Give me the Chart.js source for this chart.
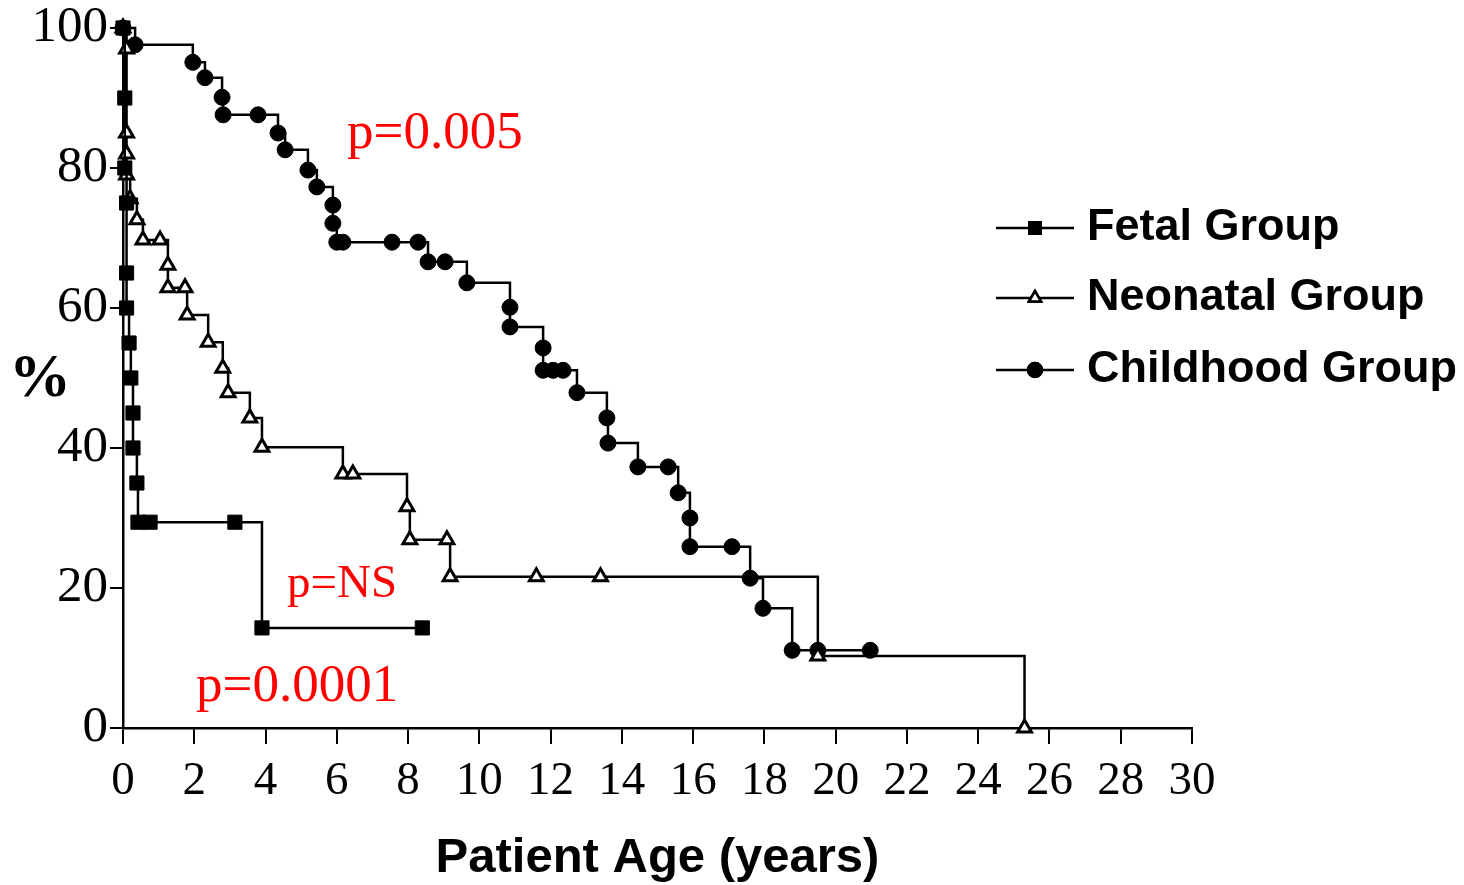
<!DOCTYPE html>
<html>
<head>
<meta charset="utf-8">
<script src="https://cdn.jsdelivr.net/npm/chart.js@4/dist/chart.umd.min.js"></script>
<style>
  html, body { margin: 0; padding: 0; background: #fff; }
  #wrap { width: 1464px; height: 885px; }
</style>
</head>
<body>
<div id="wrap"><canvas id="kmChart" width="1464" height="885"></canvas></div>
<script>
// survival curves (age in years, % surviving)
const fetalAge = [0, 0.05, 0.05, 0.1, 0.1, 0.1, 0.17, 0.22, 0.28, 0.28, 0.39, 0.42, 0.76, 3.14, 3.9, 8.4];
const fetalPct = [100, 90, 80, 75, 65, 60, 55, 50, 45, 40, 35, 29.4, 29.4, 29.4, 14.3, 14.3];

const neonatalAge = [0, 0.1, 0.1, 0.1, 0.1, 0.2, 0.39, 0.56, 1.04, 1.26, 1.26, 1.74, 1.8, 2.39, 2.8, 2.95,
    3.56, 3.9, 6.17, 6.45, 7.97, 8.05, 9.09, 9.18, 11.6, 13.4, 19.5, 25.3];
const neonatalPct = [100, 97, 85, 82, 79, 75.6, 72.6, 69.7, 69.7, 66.1, 62.9, 62.9, 59, 55.1, 51.4, 47.9,
    44.3, 40.1, 36.3, 36.3, 31.6, 26.9, 26.9, 21.6, 21.6, 21.6, 10.3, 0];

const childhoodAge = [0, 0.34, 1.96, 2.3, 2.78, 2.81, 3.79, 4.35, 4.55, 5.19, 5.44, 5.89, 5.89, 6.0, 6.17,
    7.55, 8.28, 8.56, 9.04, 9.65, 10.86, 10.86, 11.79, 11.79, 12.07, 12.35, 12.74, 13.58, 13.61, 14.45,
    15.3, 15.58, 15.91, 15.91, 17.09, 17.6, 17.96, 18.78, 19.5, 20.97];
const childhoodPct = [100, 97.6, 95.1, 92.9, 90.1, 87.6, 87.6, 85, 82.6, 79.7, 77.3, 74.7, 72.1, 69.4, 69.4,
    69.4, 69.4, 66.6, 66.6, 63.6, 60.1, 57.3, 54.3, 51.1, 51.1, 51.1, 47.9, 44.3, 40.7, 37.3,
    37.3, 33.6, 30, 25.9, 25.9, 21.4, 17.1, 11.1, 11.1, 11.1];

const seriesNames = ['Fetal Group', 'Neonatal Group', 'Childhood Group'];
const pValueLabels = ['p=0.005', 'p=NS', 'p=0.0001'];

function toPoints(xs, ys) {
    return xs.map((x, i) => ({ x: x, y: ys[i] }));
}

const serif = '"Liberation Serif", "Times New Roman", serif';
const sans = '"Liberation Sans", Arial, sans-serif';

// legend + p-values + "%" drawn on top of the chart
const annotations = {
    id: 'annotations',
    afterDraw(chart) {
        const ctx = chart.ctx;
        ctx.save();

        ctx.fillStyle = '#000';
        ctx.font = 'bold 62px ' + serif;
        ctx.textAlign = 'center';
        ctx.textBaseline = 'middle';
        ctx.fillText('%', 40, 380);

        ctx.fillStyle = '#ff0000';
        ctx.textAlign = 'left';
        ctx.textBaseline = 'alphabetic';
        ctx.font = '53px ' + serif;
        ctx.fillText(pValueLabels[0], 347, 148);
        ctx.font = '47px ' + serif;
        ctx.fillText(pValueLabels[1], 287, 597);
        ctx.font = '53px ' + serif;
        ctx.fillText(pValueLabels[2], 196, 701);

        const rows = [
            { y: 228, style: 'rect', radius: 8, fill: '#000' },
            { y: 298, style: 'triangle', radius: 7, fill: '#fff' },
            { y: 370, style: 'circle', radius: 7, fill: '#000' }
        ];
        rows.forEach((row, i) => {
            ctx.strokeStyle = '#000';
            ctx.lineWidth = 2.5;
            ctx.beginPath();
            ctx.moveTo(996, row.y);
            ctx.lineTo(1074, row.y);
            ctx.stroke();
            ctx.fillStyle = row.fill;
            Chart.helpers.drawPoint(ctx, {
                pointStyle: row.style,
                radius: row.radius,
                rotation: 0,
                borderWidth: 2.5
            }, 1035, row.y);
            ctx.fill();
            ctx.stroke();

            ctx.fillStyle = '#000';
            ctx.font = 'bold 45px ' + sans;
            ctx.textAlign = 'left';
            ctx.textBaseline = 'middle';
            ctx.fillText(seriesNames[i], 1087, row.y);
        });

        ctx.restore();
    }
};

const ctx = document.getElementById('kmChart').getContext('2d');

new Chart(ctx, {
    type: 'scatter',
    data: {
        datasets: [
            {
                label: seriesNames[0],
                data: toPoints(fetalAge, fetalPct),
                showLine: true,
                stepped: 'before',
                borderColor: '#000',
                borderWidth: 2.5,
                pointStyle: 'rect',
                pointRadius: 10,
                pointBackgroundColor: '#000',
                pointBorderColor: '#000',
                pointBorderWidth: 1,
                clip: false
            },
            {
                label: seriesNames[1],
                data: toPoints(neonatalAge, neonatalPct),
                showLine: true,
                stepped: 'before',
                borderColor: '#000',
                borderWidth: 2.5,
                pointStyle: 'triangle',
                pointRadius: 8,
                pointBackgroundColor: '#fff',
                pointBorderColor: '#000',
                pointBorderWidth: 3,
                clip: false
            },
            {
                label: seriesNames[2],
                data: toPoints(childhoodAge, childhoodPct),
                showLine: true,
                stepped: 'before',
                borderColor: '#000',
                borderWidth: 2.5,
                pointStyle: 'circle',
                pointRadius: 8,
                pointBackgroundColor: '#000',
                pointBorderColor: '#000',
                pointBorderWidth: 1,
                clip: false
            }
        ]
    },
    options: {
        responsive: false,
        animation: false,
        layout: {
            padding: { left: 0, right: 272, top: 28, bottom: 0 }
        },
        plugins: {
            legend: { display: false },
            tooltip: { enabled: false }
        },
        scales: {
            x: {
                type: 'linear',
                min: 0,
                max: 30,
                afterFit: function(scale) { scale.height = 157; },
                border: { display: true, color: '#000', width: 2.5 },
                grid: {
                    drawOnChartArea: false,
                    drawTicks: true,
                    tickLength: 16,
                    color: '#000',
                    lineWidth: 2
                },
                ticks: {
                    stepSize: 2,
                    padding: 14,
                    color: '#000',
                    maxRotation: 0,
                    autoSkip: false,
                    font: { family: serif, size: 47, lineHeight: 1 }
                },
                title: {
                    display: true,
                    text: 'Patient Age (years)',
                    color: '#000',
                    padding: 0,
                    font: { family: sans, size: 49, weight: 'bold', lineHeight: 1.1 }
                }
            },
            y: {
                type: 'linear',
                min: 0,
                max: 100,
                afterFit: function(scale) { scale.width = 123; },
                border: { display: true, color: '#000', width: 2.5 },
                grid: {
                    drawOnChartArea: false,
                    drawTicks: true,
                    tickLength: 13,
                    color: '#000',
                    lineWidth: 2
                },
                ticks: {
                    stepSize: 20,
                    padding: 2,
                    color: '#000',
                    font: { family: serif, size: 51, lineHeight: 1 }
                }
            }
        }
    },
    plugins: [annotations]
});
</script>
</body>
</html>
